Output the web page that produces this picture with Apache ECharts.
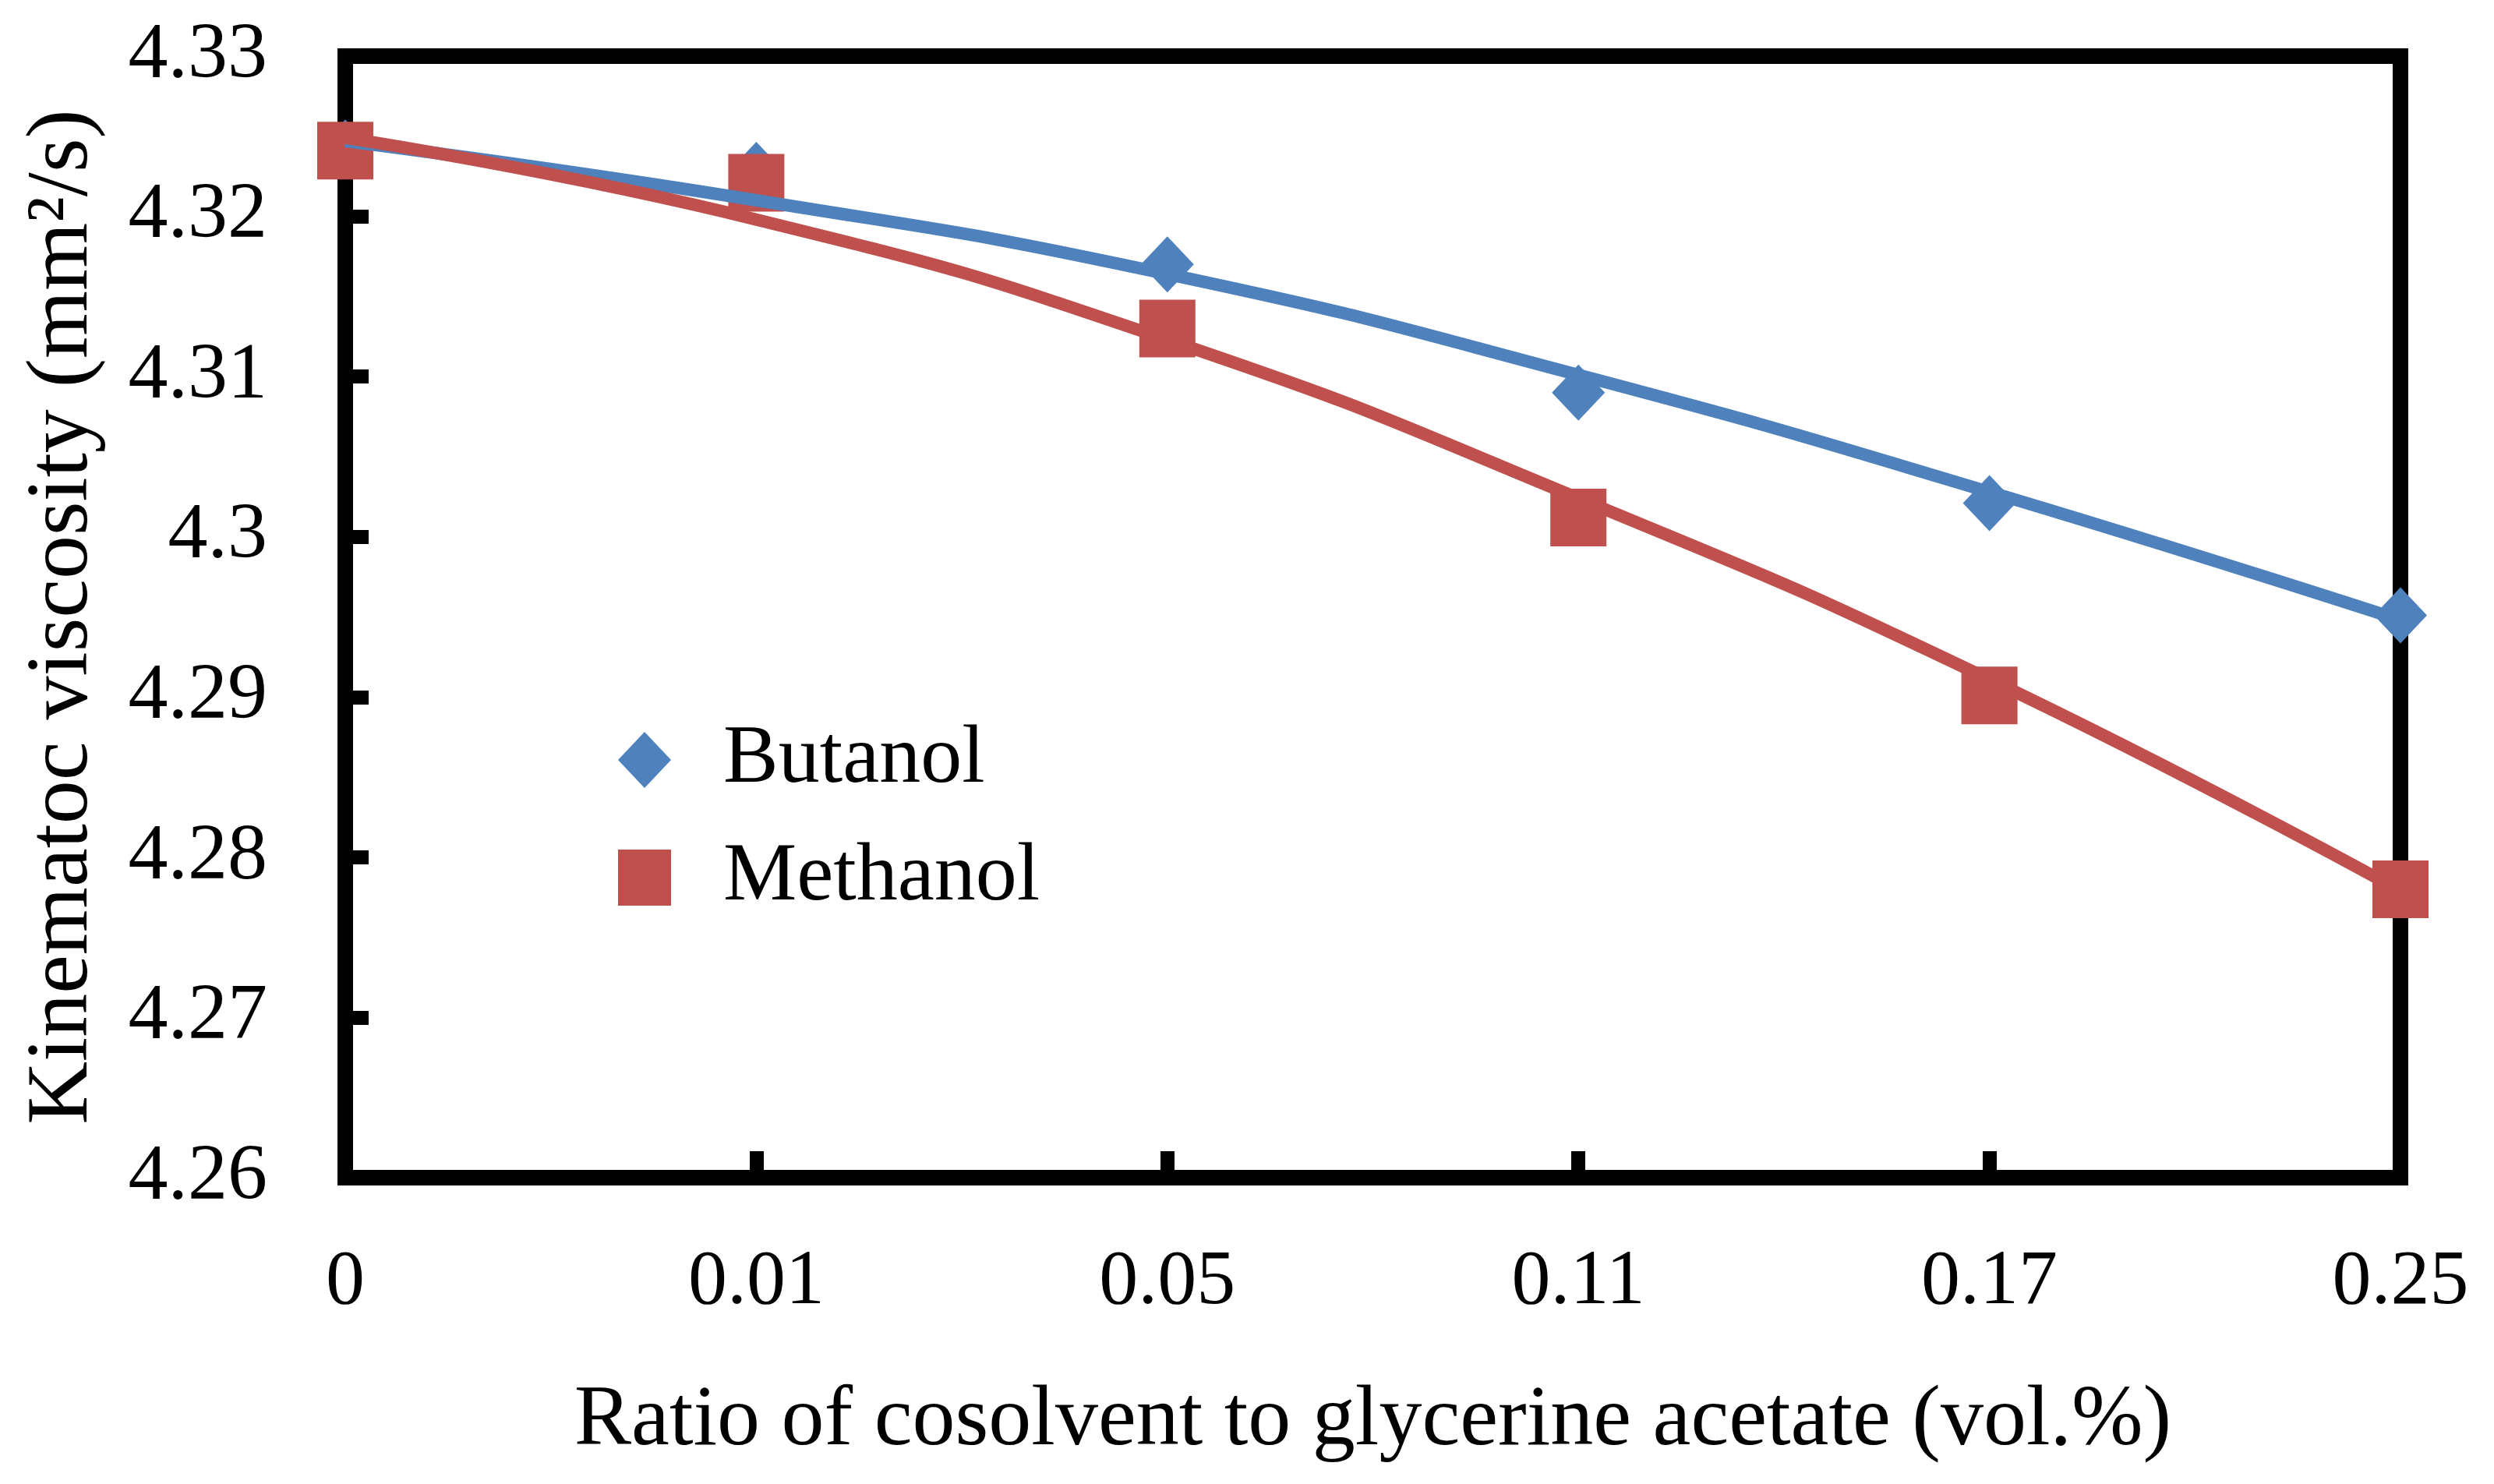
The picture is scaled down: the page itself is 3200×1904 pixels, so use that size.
<!DOCTYPE html>
<html>
<head>
<meta charset="utf-8">
<script src="https://cdn.jsdelivr.net/npm/echarts@6/dist/echarts.min.js"></script>
<style>
html,body{margin:0;padding:0;background:#fff;}
#chart{width:3200px;height:1904px;}
</style>
</head>
<body>
<div id="chart"></div>
<script>
// ---- data ----
var categories = ['0', '0.01', '0.05', '0.11', '0.17', '0.25'];
var butanolValues = [4.3243, 4.3229, 4.3170, 4.3090, 4.3021, 4.2951];
var methanolValues = [4.3241, 4.3221, 4.3130, 4.3012, 4.2901, 4.2780];
var butanolTrend = [4.3247, 4.3210, 4.3164, 4.3101, 4.3028, 4.2948];
var methanolTrend = [4.3249, 4.3198, 4.3123, 4.3024, 4.2911, 4.2779];
var yTickLabels = ['4.26', '4.27', '4.28', '4.29', '4.3', '4.31', '4.32', '4.33'];
var seriesNames = ['Butanol', 'Methanol'];
var xTitle = 'Ratio of cosolvent to glycerine acetate (vol.%)';
var yTitle = 'Kinematoc viscosity (mm\u00B2/s)';

var FONT = "'Liberation Serif', 'Times New Roman', serif";
var BLUE = '#4F81BD';
var RED = '#C0504D';

var chart = echarts.init(document.getElementById('chart'));
chart.setOption({
  animation: false,
  backgroundColor: '#fff',
  grid: {
    left: 443, right: 120, top: 72, bottom: 393,
    show: true, borderColor: '#000', borderWidth: 20, backgroundColor: 'transparent'
  },
  legend: {
    orient: 'vertical',
    left: 788, top: 917,
    itemWidth: 68, itemHeight: 72, itemGap: 45,
    textStyle: { fontFamily: FONT, fontSize: 106, lineHeight: 72, color: '#000', padding: [0, 0, 0, 62] },
    data: [
      { name: seriesNames[0], icon: 'diamond' },
      { name: seriesNames[1], icon: 'rect' }
    ]
  },
  xAxis: {
    type: 'category',
    data: categories,
    boundaryGap: false,
    name: xTitle,
    nameLocation: 'middle',
    nameGap: 258,
    nameTextStyle: { fontFamily: FONT, fontSize: 110, color: '#000' },
    axisLine: { show: true, lineStyle: { color: '#000', width: 20 } },
    axisTick: { show: true, inside: true, length: 34, alignWithLabel: true, lineStyle: { color: '#000', width: 18 } },
    axisLabel: { fontFamily: FONT, fontSize: 100, color: '#000', margin: 85 },
    splitLine: { show: false }
  },
  yAxis: {
    type: 'value',
    min: 4.26, max: 4.33, interval: 0.01,
    name: yTitle,
    nameLocation: 'middle',
    nameGap: 305,
    nameTextStyle: { fontFamily: FONT, fontSize: 112, color: '#000' },
    axisLine: { show: true, lineStyle: { color: '#000', width: 20 } },
    axisTick: { show: true, inside: true, length: 30, lineStyle: { color: '#000', width: 18 } },
    axisLabel: {
      fontFamily: FONT, fontSize: 102, color: '#000', margin: 100,
      formatter: function (v) { return yTickLabels[Math.round((v - 4.26) / 0.01)]; }
    },
    splitLine: { show: false }
  },
  series: [
    {
      name: seriesNames[0], type: 'scatter', data: butanolValues,
      symbol: 'diamond', symbolSize: [68, 72],
      itemStyle: { color: BLUE, opacity: 1 }
    },
    {
      name: seriesNames[1], type: 'scatter', data: methanolValues,
      symbol: 'rect', symbolSize: [72, 74],
      itemStyle: { color: RED, opacity: 1 }
    },
    {
      name: 'Butanol trend', type: 'line', data: butanolTrend,
      smooth: true, symbol: 'none', lineStyle: { color: BLUE, width: 16 }
    },
    {
      name: 'Methanol trend', type: 'line', data: methanolTrend,
      smooth: true, symbol: 'none', lineStyle: { color: RED, width: 16 }
    }
  ]
});
</script>
</body>
</html>
